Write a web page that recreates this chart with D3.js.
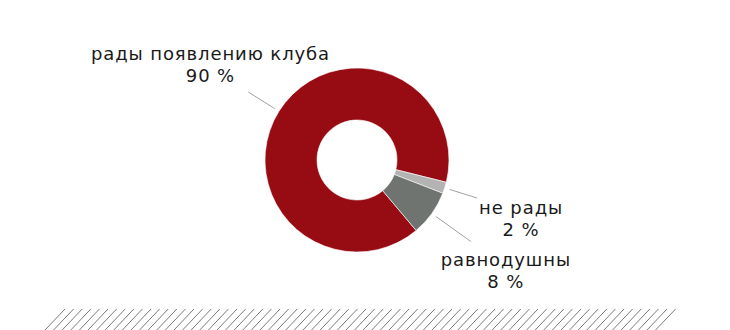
<!DOCTYPE html>
<html>
<head>
<meta charset="utf-8">
<script src="https://cdn.jsdelivr.net/npm/d3@7"></script>
<style>
  body { margin: 0; background: #fff; }
  svg { display: block; }
  text { font-family: "DejaVu Sans", sans-serif; font-size: 18px; letter-spacing: 0.9px; fill: #1a1a1a; }
</style>
</head>
<body>
<div class="chart"></div>
<script>
// survey answers
const categories = ["рады появлению клуба", "не рады", "равнодушны"];
const values = [90, 2, 8];
const colors = ["#970b13", "#b3b3b3", "#6f7470"];

// size of the picture
const w = 730, h = 330;
const cx = 357, cy = 160;
const outerR = 92, innerR = 40;

const svg = d3.select("div.chart")
    .append("svg")
    .attr("width", w)
    .attr("height", h);

// pie starts at lower right so the small slices end up there
const pie = d3.pie()
    .sort(null)
    .startAngle(140 * Math.PI / 180)
    .endAngle(500 * Math.PI / 180);

const arc = d3.arc()
    .innerRadius(innerR)
    .outerRadius(outerR);

const arcs = pie(values);

const g = svg.append("g")
    .attr("transform", "translate(" + cx + "," + cy + ")");

g.selectAll("path")
    .data(arcs)
    .enter()
    .append("path")
    .attr("d", arc)
    .attr("fill", (d, i) => colors[i])
    .attr("stroke", "#fff")
    .attr("stroke-width", 0.6);

// leader lines + labels, a bit hand placed like the original
const lineEnd = [128, 126, 140];
const labelShift = [[-38, -32], [44, 16], [35, 25]];

const polar = (a, r) => [Math.sin(a) * r, -Math.cos(a) * r];

arcs.forEach((d, i) => {
    const mid = (d.startAngle + d.endAngle) / 2;
    const p0 = polar(mid, 97);
    const p1 = polar(mid, lineEnd[i]);
    g.append("line")
        .attr("x1", p0[0]).attr("y1", p0[1])
        .attr("x2", p1[0]).attr("y2", p1[1])
        .attr("stroke", "#8a8a8a")
        .attr("stroke-width", 0.8);

    const t = g.append("text")
        .attr("text-anchor", "middle")
        .attr("x", p1[0] + labelShift[i][0])
        .attr("y", p1[1] + labelShift[i][1]);
    t.append("tspan")
        .attr("x", p1[0] + labelShift[i][0])
        .text(categories[i]);
    t.append("tspan")
        .attr("x", p1[0] + labelShift[i][0])
        .attr("dy", 22)
        .text(values[i] + " %");
});

// hatched strip at the bottom
const hatch = d3.range(45, 664, 8.6);
svg.append("g")
    .selectAll("line")
    .data(hatch)
    .enter()
    .append("line")
    .attr("x1", d => d)
    .attr("y1", 330)
    .attr("x2", d => d + 20)
    .attr("y2", 309)
    .attr("stroke", "#7a7a7a")
    .attr("stroke-width", 1);
</script>
</body>
</html>
